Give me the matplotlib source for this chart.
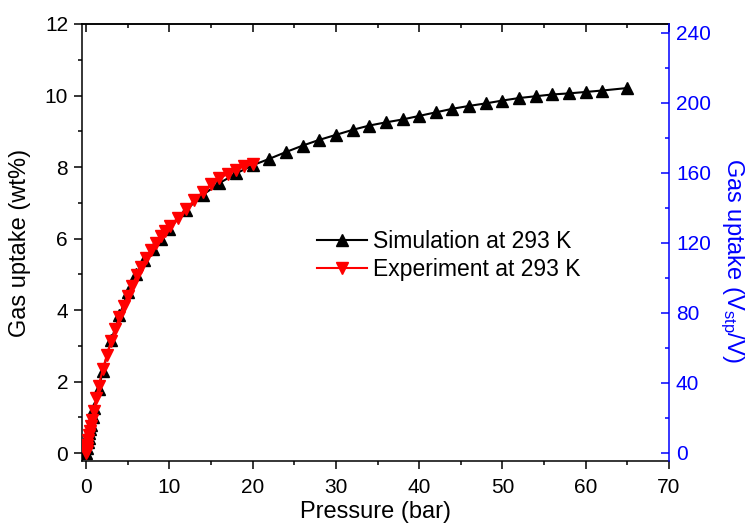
import numpy as np
import matplotlib
matplotlib.use("Agg")
import matplotlib.pyplot as plt
from matplotlib.ticker import MultipleLocator

plt.rcParams['font.family'] = ['Liberation Sans', 'DejaVu Sans']
plt.rcParams['mathtext.fontset'] = 'custom'
plt.rcParams['mathtext.rm'] = 'Liberation Sans'
plt.rcParams['mathtext.it'] = 'Liberation Sans'

# Simulation at 293 K (pressure in bar, uptake in wt%)
sim_p = [0, 0.1, 0.2, 0.3, 0.4, 0.5, 0.6, 0.8, 1.0, 1.5, 2, 3, 4, 5, 6, 7, 8, 9, 10,
         12, 14, 16, 18, 20, 22, 24, 26, 28, 30, 32, 34, 36, 38, 40, 42, 44, 46,
         48, 50, 52, 54, 56, 58, 60, 62, 65]
sim_wt = [0, 0.15, 0.3, 0.42, 0.55, 0.68, 0.8, 1.02, 1.25, 1.8, 2.3, 3.15, 3.85,
          4.5, 5.0, 5.4, 5.72, 6.0, 6.28, 6.8, 7.22, 7.55, 7.82, 8.05, 8.23, 8.42,
          8.60, 8.76, 8.90, 9.04, 9.16, 9.25, 9.33, 9.43, 9.53, 9.63, 9.71, 9.78,
          9.86, 9.93, 9.98, 10.03, 10.06, 10.10, 10.14, 10.21]

# Experiment at 293 K
exp_p = [0.0, 0.05, 0.1, 0.15, 0.25, 0.35, 0.45, 0.55, 0.7, 0.9, 1.2, 1.5, 2.0,
         2.5, 3.0, 3.5, 4.0, 4.5, 5.0, 5.5, 6.1, 6.6, 7.2, 7.8, 8.4, 9.0, 9.5,
         10.1, 11.0, 12.0, 13.0, 14.0, 15.0, 16.0, 17.0, 18.0, 19.0, 20.0]
exp_wt = [0, 0.07, 0.14, 0.22, 0.36, 0.5, 0.62, 0.75, 0.93, 1.18, 1.55, 1.88,
          2.35, 2.75, 3.14, 3.48, 3.8, 4.12, 4.4, 4.68, 4.98, 5.2, 5.45, 5.67,
          5.88, 6.06, 6.2, 6.35, 6.58, 6.83, 7.07, 7.3, 7.52, 7.68, 7.81, 7.93,
          8.02, 8.08]

fig = plt.figure(figsize=(7.53, 5.24), dpi=100)
ax = fig.add_axes([0.1089, 0.1202, 0.7795, 0.834])

ax.plot(sim_p, sim_wt, color='black', lw=1.5, marker='^', ms=8,
        label='Simulation at 293 K', zorder=2)
ax.plot(exp_p, exp_wt, color='red', lw=1.5, marker='v', ms=9,
        label='Experiment at 293 K', zorder=3)

ax.set_xlim(-0.5, 70)
ax.set_ylim(-0.22, 12)
ax.xaxis.set_major_locator(MultipleLocator(10))
ax.xaxis.set_minor_locator(MultipleLocator(5))
ax.yaxis.set_major_locator(MultipleLocator(2))
ax.yaxis.set_minor_locator(MultipleLocator(1))
ax.tick_params(which='major', direction='out', length=6, width=1.1, labelsize=15, pad=4)
ax.tick_params(axis='x', which='major', pad=6)
ax.tick_params(which='minor', direction='out', length=3, width=1.1)
ax.spines['right'].set_visible(False)
for s in ['left', 'bottom', 'top']:
    ax.spines[s].set_linewidth(1.1)

top = ax.secondary_xaxis('top')
top.xaxis.set_major_locator(MultipleLocator(10))
top.xaxis.set_minor_locator(MultipleLocator(5))
top.tick_params(which='major', direction='in', length=6, width=1.1, labeltop=False)
top.tick_params(which='minor', direction='in', length=3, width=1.1)
top.spines['top'].set_linewidth(1.1)

ax.set_xlabel('Pressure (bar)', fontsize=17, labelpad=3)
ax.set_ylabel('Gas uptake (wt%)', fontsize=17, labelpad=10)

ax2 = ax.twinx()
ax2.set_ylim(-4.6, 245.1)
ax2.yaxis.set_major_locator(MultipleLocator(40))
ax2.yaxis.set_minor_locator(MultipleLocator(20))
ax2.tick_params(which='major', direction='in', length=6, width=1.1, colors='blue',
                labelsize=15, pad=5)
ax2.tick_params(which='minor', direction='in', length=3, width=1.1, colors='blue')
ax2.spines['right'].set_color('blue')
ax2.spines['right'].set_linewidth(1.1)
ax2.spines['left'].set_visible(False)
ax2.spines['top'].set_visible(False)
ax2.spines['bottom'].set_visible(False)
ax2.set_ylabel('Gas uptake (V$_{stp}$/V)', fontsize=17, color='blue',
               rotation=270, va='bottom')
ax2.yaxis.set_label_coords(1.0835, 0.46)

ax.legend(loc='center left', bbox_to_anchor=(0.365, 0.47), frameon=False,
          fontsize=16.5, handlelength=2.2, handletextpad=0.26, labelspacing=0.2)

fig.savefig('out.png', dpi=100)
